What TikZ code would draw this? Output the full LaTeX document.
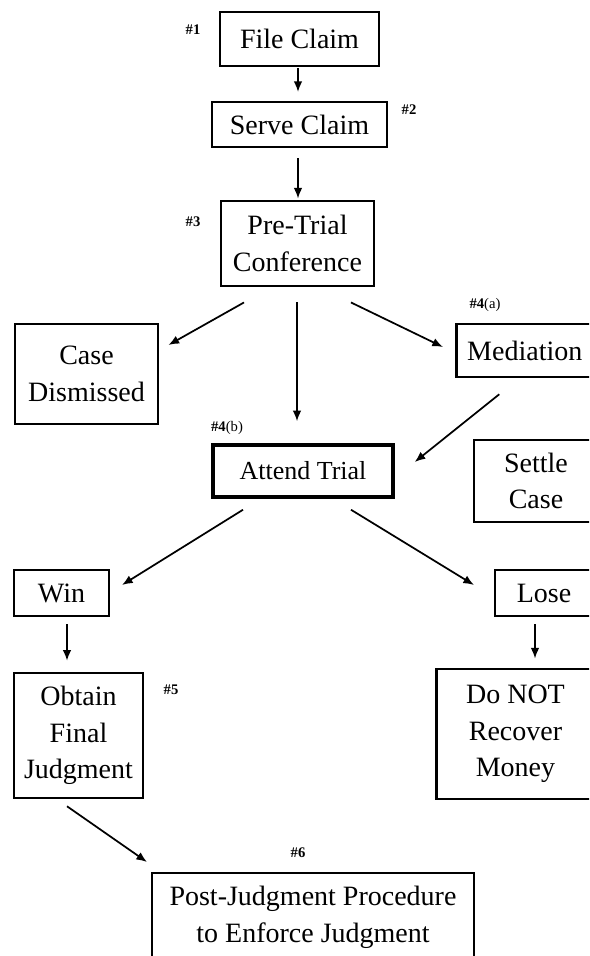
\documentclass[tikz,border=0pt]{standalone}
\usepackage{fontspec}
\setmainfont{Liberation Serif}
\usetikzlibrary{arrows.meta}
\begin{document}
\begin{tikzpicture}[x=0.75pt,y=-0.75pt,
  box/.style={draw, line width=1.5pt, align=center, inner sep=0pt, font=\fontsize{21}{27.5}\selectfont},
  thickbox/.style={box, line width=2.2pt},
  sz/.style 2 args={minimum width=#1*0.75pt, minimum height=#2*0.75pt},
  arr/.style={-{Latex[length=8pt,width=6.5pt]}, line width=1.3pt},
  lbl/.style={font=\fontsize{11}{12}\selectfont, inner sep=0pt}]
\useasboundingbox (0,0) rectangle (589,956);
\clip (0,0) rectangle (589,956);
\fill[white] (0,0) rectangle (589,956);

\node[thickbox, sz={159}{54}] (file) at (299.5,39) {File Claim};
\node[box, sz={175}{45}] (serve) at (299.5,124.5) {Serve Claim};
\node[thickbox, sz={153}{85}] (pre) at (297.5,243.5) {Pre-Trial\\Conference};
\node[thickbox, sz={143}{100}] (case) at (86.5,374) {Case\\Dismissed};
\node[box, line width=1.9pt, sz={137}{53}, anchor=west] (med) at (455,350.5) {Mediation};
\node[box, sz={124}{82}, anchor=west] (settle) at (473,481) {Settle\\Case};
\node[thickbox, line width=2.6pt, sz={180}{52}, font=\fontsize{19.5}{24}\selectfont] (attend) at (303,471) {Attend Trial};
\node[box, sz={95}{46}] (win) at (61.5,593) {Win};
\node[box, sz={98}{46}, anchor=west] (lose) at (494,593) {Lose};
\node[box, line width=1.9pt, sz={129}{125}] (obtain) at (78.5,735.5) {Obtain\\Final\\Judgment};
\node[thickbox, sz={158}{130}, anchor=west] (donot) at (435,734) {Do NOT\\Recover\\Money};
\node[box, sz={322}{89}] (post) at (313,917.5) {Post-Judgment Procedure\\to Enforce Judgment};

\node[lbl] (l1) at (193,30) {\textbf{\#1}};
\node[lbl] (l2) at (409,110) {\textbf{\#2}};
\node[lbl] (l3) at (193,222) {\textbf{\#3}};
\node[lbl] (l4a) at (485,305) {\textbf{\#4}(a)};
\node[lbl] (l4b) at (227,428) {\textbf{\#4}(b)};
\node[lbl] (l5) at (171,690) {\textbf{\#5}};
\node[lbl] (l6) at (298,853) {\textbf{\#6}};

\draw[arr] ([shift={(-1.5,1)}]file.south) -- ([shift={(-1.5,-9)}]serve.north);
\draw[arr] ([shift={(-1.5,10)}]serve.south) -- ([shift={(0.5,-1)}]pre.north);
\draw[arr] ([shift={(-53.5,15)}]pre.south) -- ([shift={(9,-29)}]case.east);
\draw[arr] ([shift={(-0.5,15)}]pre.south) -- ([shift={(-6,-22)}]attend.north);
\draw[arr] ([shift={(53.5,15)}]pre.south) -- ([shift={(-12,-3.5)}]med.west);
\draw[arr] ([shift={(-25.5,16)}]med.south) -- ([shift={(20,-9)}]attend.east);
\draw[arr] ([shift={(-60,11)}]attend.south) -- ([shift={(12,-8)}]win.east);
\draw[arr] ([shift={(48,11)}]attend.south) -- ([shift={(-20,-8)}]lose.west);
\draw[arr] ([shift={(5.5,7)}]win.south) -- ([shift={(-11.5,-11)}]obtain.north);
\draw[arr] ([shift={(41,7)}]lose.south west) -- ([shift={(100,-9)}]donot.north west);
\draw[arr] ([shift={(-11.5,7)}]obtain.south) -- ([shift={(-4,-10)}]post.north west);
\end{tikzpicture}
\end{document}
